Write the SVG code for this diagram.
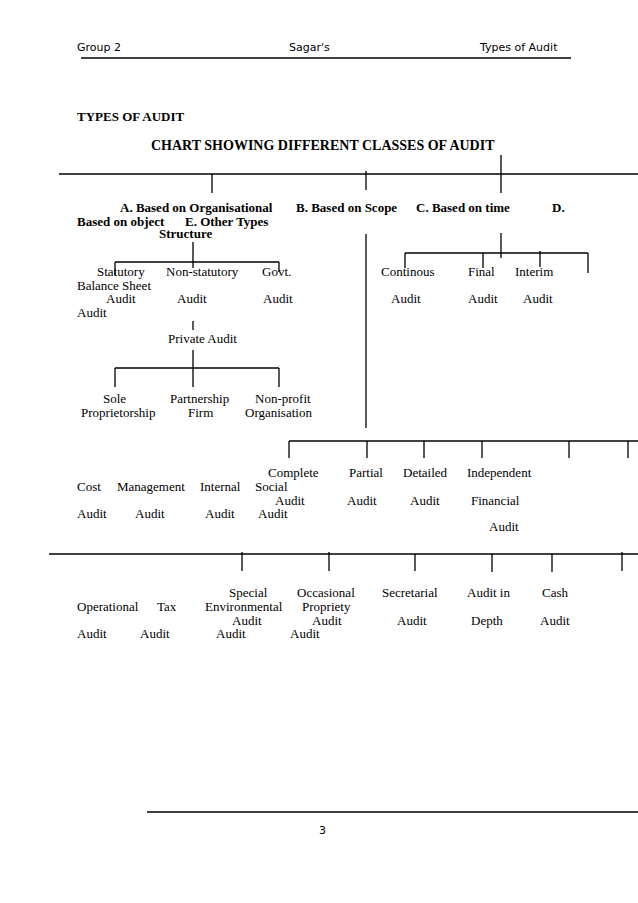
<svg xmlns="http://www.w3.org/2000/svg" width="638" height="903" viewBox="0 0 638 903">
<style>
.hd{font-family:"DejaVu Sans",Verdana,sans-serif;font-size:11px;fill:#000}
.b{font-family:"Liberation Serif","Times New Roman",serif;font-weight:bold;font-size:13px;fill:#000}
.t{font-family:"Liberation Serif","Times New Roman",serif;font-size:13px;fill:#000}
.ln{stroke:#000;stroke-width:1.3;fill:none}
</style>
<rect width="638" height="903" fill="#fff"/>
<g id="header">
<text class="hd" x="77" y="51">Group 2</text>
<text class="hd" x="289" y="51">Sagar's</text>
<text class="hd" x="480" y="51">Types of Audit</text>
<line class="ln" x1="81" y1="58" x2="571" y2="58"/>
</g>
<g id="title">
<text class="b" x="77" y="121">TYPES OF AUDIT</text>
<text class="b" x="151" y="150" style="font-size:14px">CHART SHOWING DIFFERENT CLASSES OF AUDIT</text>
</g>
<g id="connectors">
<line class="ln" x1="59" y1="174" x2="638" y2="174"/>
<line class="ln" x1="212" y1="174" x2="212" y2="193"/>
<line class="ln" x1="366" y1="171" x2="366" y2="190"/>
<line class="ln" x1="501" y1="155" x2="501" y2="193"/>
<line class="ln" x1="193" y1="242" x2="193" y2="268"/>
<line class="ln" x1="115" y1="262" x2="279" y2="262"/>
<line class="ln" x1="115" y1="262" x2="115" y2="275"/>
<line class="ln" x1="279" y1="262" x2="279" y2="272"/>
<line class="ln" x1="193" y1="321" x2="193" y2="330"/>
<line class="ln" x1="193" y1="350" x2="193" y2="387"/>
<line class="ln" x1="115" y1="368" x2="279" y2="368"/>
<line class="ln" x1="115" y1="368" x2="115" y2="387"/>
<line class="ln" x1="279" y1="368" x2="279" y2="387"/>
<line class="ln" x1="366" y1="234" x2="366" y2="428"/>
<line class="ln" x1="501" y1="233" x2="501" y2="258"/>
<line class="ln" x1="405" y1="253" x2="588" y2="253"/>
<line class="ln" x1="405" y1="253" x2="405" y2="268"/>
<line class="ln" x1="483" y1="253" x2="483" y2="268"/>
<line class="ln" x1="540" y1="251" x2="540" y2="267"/>
<line class="ln" x1="588" y1="253" x2="588" y2="273"/>
<line class="ln" x1="289" y1="441" x2="638" y2="441"/>
<line class="ln" x1="289" y1="441" x2="289" y2="458"/>
<line class="ln" x1="367" y1="441" x2="367" y2="458"/>
<line class="ln" x1="424" y1="441" x2="424" y2="458"/>
<line class="ln" x1="482" y1="441" x2="482" y2="458"/>
<line class="ln" x1="569" y1="441" x2="569" y2="458"/>
<line class="ln" x1="628" y1="441" x2="628" y2="458"/>
<line class="ln" x1="49" y1="554" x2="638" y2="554"/>
<line class="ln" x1="242" y1="552" x2="242" y2="571"/>
<line class="ln" x1="329" y1="552" x2="329" y2="571"/>
<line class="ln" x1="415" y1="554" x2="415" y2="571"/>
<line class="ln" x1="492" y1="554" x2="492" y2="572"/>
<line class="ln" x1="552" y1="554" x2="552" y2="572"/>
<line class="ln" x1="622" y1="552" x2="622" y2="571"/>
</g>
<g id="node-a"><text class="b" x="120" y="212">A. Based on Organisational</text></g>
<g id="node-b"><text class="b" x="296" y="212">B. Based on Scope</text></g>
<g id="node-c"><text class="b" x="416" y="212">C. Based on time</text></g>
<g id="node-d"><text class="b" x="552" y="212">D.</text></g>
<g id="node-d2"><text class="b" x="77" y="226">Based on object</text></g>
<g id="node-e"><text class="b" x="185" y="226">E. Other Types</text></g>
<g id="node-a2"><text class="b" x="159" y="238">Structure</text></g>
<g id="node-statutory"><text class="t" x="97" y="276">Statutory</text><text class="t" x="106" y="303">Audit</text></g>
<g id="node-nonstatutory"><text class="t" x="166" y="276">Non-statutory</text><text class="t" x="177" y="303">Audit</text></g>
<g id="node-govt"><text class="t" x="262" y="276">Govt.</text><text class="t" x="263" y="303">Audit</text></g>
<g id="node-balance"><text class="t" x="77" y="290">Balance Sheet</text><text class="t" x="77" y="317">Audit</text></g>
<g id="node-private"><text class="t" x="168" y="343">Private Audit</text></g>
<g id="node-sole"><text class="t" x="103" y="403">Sole</text><text class="t" x="81" y="417">Proprietorship</text></g>
<g id="node-partnership"><text class="t" x="170" y="403">Partnership</text><text class="t" x="188" y="417">Firm</text></g>
<g id="node-nonprofit"><text class="t" x="255" y="403">Non-profit</text><text class="t" x="245" y="417">Organisation</text></g>
<g id="node-continous"><text class="t" x="381" y="276">Continous</text><text class="t" x="391" y="303">Audit</text></g>
<g id="node-final"><text class="t" x="468" y="276">Final</text><text class="t" x="468" y="303">Audit</text></g>
<g id="node-interim"><text class="t" x="515" y="276">Interim</text><text class="t" x="523" y="303">Audit</text></g>
<g id="node-complete"><text class="t" x="268" y="477">Complete</text><text class="t" x="275" y="505">Audit</text></g>
<g id="node-partial"><text class="t" x="349" y="477">Partial</text><text class="t" x="347" y="505">Audit</text></g>
<g id="node-detailed"><text class="t" x="403" y="477">Detailed</text><text class="t" x="410" y="505">Audit</text></g>
<g id="node-independent"><text class="t" x="467" y="477">Independent</text><text class="t" x="471" y="505">Financial</text><text class="t" x="489" y="531">Audit</text></g>
<g id="node-cost"><text class="t" x="77" y="491">Cost</text><text class="t" x="77" y="518">Audit</text></g>
<g id="node-management"><text class="t" x="117" y="491">Management</text><text class="t" x="135" y="518">Audit</text></g>
<g id="node-internal"><text class="t" x="200" y="491">Internal</text><text class="t" x="205" y="518">Audit</text></g>
<g id="node-social"><text class="t" x="255" y="491">Social</text><text class="t" x="258" y="518">Audit</text></g>
<g id="node-special"><text class="t" x="229" y="597">Special</text><text class="t" x="232" y="625">Audit</text></g>
<g id="node-occasional"><text class="t" x="297" y="597">Occasional</text><text class="t" x="312" y="625">Audit</text></g>
<g id="node-secretarial"><text class="t" x="382" y="597">Secretarial</text><text class="t" x="397" y="625">Audit</text></g>
<g id="node-depth"><text class="t" x="467" y="597">Audit in</text><text class="t" x="471" y="625">Depth</text></g>
<g id="node-cash"><text class="t" x="542" y="597">Cash</text><text class="t" x="540" y="625">Audit</text></g>
<g id="node-operational"><text class="t" x="77" y="611">Operational</text><text class="t" x="77" y="638">Audit</text></g>
<g id="node-tax"><text class="t" x="157" y="611">Tax</text><text class="t" x="140" y="638">Audit</text></g>
<g id="node-environmental"><text class="t" x="205" y="611">Environmental</text><text class="t" x="216" y="638">Audit</text></g>
<g id="node-propriety"><text class="t" x="302" y="611">Propriety</text><text class="t" x="290" y="638">Audit</text></g>
<g id="footer">
<line class="ln" x1="147" y1="812" x2="638" y2="812"/>
<text class="hd" x="319" y="834">3</text>
</g>
</svg>
